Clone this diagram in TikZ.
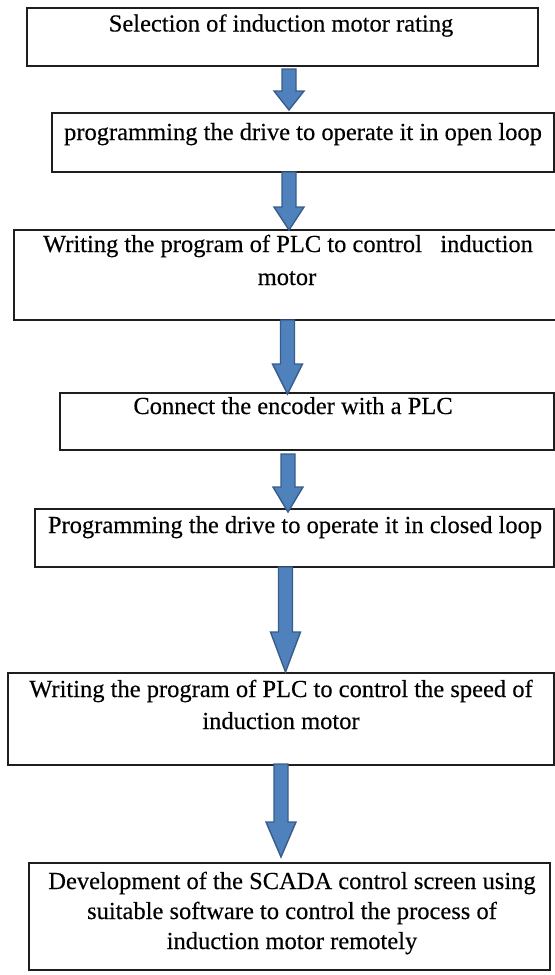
\documentclass[tikz,border=0pt]{standalone}
\usepackage{fontspec}
\setmainfont{Liberation Serif}[AutoFakeBold=0, FakeBold=0.3]
\newfontfamily\stepfont{Liberation Serif}[FakeBold=0.3]
\usetikzlibrary{calc}
\definecolor{arrowfill}{HTML}{4F81BD}
\definecolor{arrowedge}{HTML}{385D8A}
\definecolor{boxline}{HTML}{1E1E1E}
\tikzset{
  stepbox/.style={draw=boxline, line width=1.3bp, rectangle, inner sep=0pt, outer sep=0pt, anchor=north west},
  steptext/.style={anchor=base, inner sep=0pt, font=\stepfont\fontsize{24.6}{30}\selectfont},
  blockarrow/.style={fill=arrowfill, draw=arrowedge, line width=1.4bp, line join=miter},
}
% block arrow: x position, source node, target node, shift of tail, shift of tip, head length
\newcommand\flowarrow[6]{%
  \path (#1,0 |- #2.south) ++(0,#4) coordinate (at-top)
        (#1,0 |- #3.north) ++(0,#5) coordinate (at-tip);
  \draw[blockarrow] ($(at-top)+(-7,0)$) -- ($(at-top)+(7,0)$) -- ($(at-tip)+(7,-#6)$)
    -- ($(at-tip)+(15,-#6)$) -- (at-tip) -- ($(at-tip)+(-15,-#6)$) -- ($(at-tip)+(-7,-#6)$) -- cycle;
}
\begin{document}
\begin{tikzpicture}[x=1bp, y=-1bp]
\useasboundingbox (0,0) rectangle (555,975);

% process steps
\node[stepbox, minimum width=511bp, minimum height=58bp] (b1) at (27,8) {};
\node[stepbox, minimum width=502bp, minimum height=59bp] (b2) at (52,113) {};
\node[stepbox, minimum width=543bp, minimum height=90bp] (b3) at (14,230) {};
\node[stepbox, minimum width=494bp, minimum height=57bp] (b4) at (60,393) {};
\node[stepbox, minimum width=519bp, minimum height=58bp] (b5) at (35,509) {};
\node[stepbox, minimum width=546bp, minimum height=92bp] (b6) at (8,673) {};
\node[stepbox, minimum width=521bp, minimum height=107bp] (b7) at (29,863) {};

% step labels
\node[steptext] (t1) at (281,31.5) {Selection of induction motor rating};
\node[steptext] (t2) at (303,140) {programming the drive to operate it in open loop};
\node[steptext] (t3a) at (288,252) {Writing the program of PLC to control\ \ \ induction};
\node[steptext] (t3b) at (287,285) {motor};
\node[steptext] (t4) at (293,414) {Connect the encoder with a PLC};
\node[steptext] (t5) at (295,533) {Programming the drive to operate it in closed loop};
\node[steptext] (t6a) at (281,697) {Writing the program of PLC to control the speed of};
\node[steptext] (t6b) at (281,729) {induction motor};
\node[steptext] (t7a) at (292,889) {Development of the SCADA control screen using};
\node[steptext] (t7b) at (292,919) {suitable software to control the process of};
\node[steptext] (t7c) at (292,949) {induction motor remotely};

% flow arrows
\flowarrow{289}{b1}{b2}{3}{-3}{19}
\flowarrow{289}{b2}{b3}{0}{0}{23}
\flowarrow{287.5}{b3}{b4}{0}{1}{30}
\flowarrow{288}{b4}{b5}{4}{3}{25}
\flowarrow{285.5}{b5}{b6}{0}{-1}{40}
\flowarrow{281}{b6}{b7}{-1}{-6}{35}
\end{tikzpicture}
\end{document}
